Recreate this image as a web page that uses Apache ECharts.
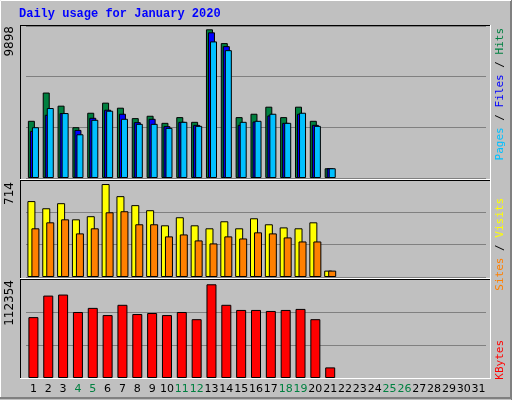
<!DOCTYPE html>
<html><head><meta charset="utf-8">
<script src="https://cdn.jsdelivr.net/npm/echarts@6/dist/echarts.min.js"></script>
<style>html,body{margin:0;padding:0;background:#c0c0c0}#c{width:512px;height:400px}</style>
</head><body><div id="c"></div>
<script>
const days = Array.from({length:31},(_,i)=>String(i+1));
const weekend = ['4','5','11','12','18','19','25','26'];
const hits  = [3807,5688,4815,3381,4344,5016,4680,3986,4143,3672,4053,3740,9898,8980,4053,4277,4747,4053,4747,3807,649];
const files = [3135,4210,4322,3202,4008,4546,4277,3717,3941,3449,3740,3538,9696,8778,3538,3762,4165,3672,4277,3538,649];
const pages = [3381,4658,4322,2911,3874,4479,3941,3605,3605,3337,3740,3471,9092,8510,3740,3807,4277,3672,4344,3471,649];
const visits= [583,528,567,443,467,714,621,552,513,397,459,397,374,428,374,451,405,381,374,420,49];
const sites = [374,420,443,335,374,497,505,405,405,312,327,281,258,312,296,343,335,304,273,273,49];
const kbytes= [72990,98823,100055,79142,84063,75450,87753,76682,77911,75450,79142,70530,112354,87753,81603,81603,80371,81603,82833,70530,12712];
const yMaxLabels = ['9898','714','112354'];

const grids=[{top:26,height:152},{top:180,height:97},{top:279,height:99}];
const maxes=[10118,745,118700];
const grid=grids.map(g=>({left:26,right:26,top:g.top,height:g.height}));
const xAxis=grids.map((g,i)=>({type:'category',gridIndex:i,data:days,boundaryGap:true,
  axisLine:{show:false},axisTick:{show:false},
  axisLabel:{show:i===2,margin:6,fontFamily:'DejaVu Sans',fontSize:11,
    color:(v)=>weekend.includes(v)?'#008040':'#000',interval:0}}));
const yAxis=grids.map((g,i)=>({type:'value',gridIndex:i,min:0,max:maxes[i],interval:maxes[i]/3,
  axisLabel:{show:false},axisLine:{show:false},axisTick:{show:false},
  splitLine:{show:true,lineStyle:{color:'#808080',width:1}}}));
const bs={borderColor:'#000',borderWidth:1};
const series=[
 {type:'bar',xAxisIndex:0,yAxisIndex:0,data:hits,barWidth:7,barGap:'-71%',itemStyle:{color:'#008040',...bs}},
 {type:'bar',xAxisIndex:0,yAxisIndex:0,data:files,barWidth:7,barGap:'-71%',itemStyle:{color:'#0000ff',...bs}},
 {type:'bar',xAxisIndex:0,yAxisIndex:0,data:pages,barWidth:7,barGap:'-71%',itemStyle:{color:'#00c0ff',...bs}},
 {type:'bar',xAxisIndex:1,yAxisIndex:1,data:visits,barWidth:8,barGap:'-50%',itemStyle:{color:'#ffff00',...bs}},
 {type:'bar',xAxisIndex:1,yAxisIndex:1,data:sites,barWidth:8,barGap:'-50%',itemStyle:{color:'#ff8000',...bs}},
 {type:'bar',xAxisIndex:2,yAxisIndex:2,data:kbytes,barWidth:10,itemStyle:{color:'#ff0000',...bs}}
];
const line=(x1,y1,x2,y2,c)=>({type:'line',shape:{x1,y1,x2,y2},style:{stroke:c,lineWidth:1},z:10,silent:true});
const panels=[[25,180],[180,279],[279,379]];
const g=[
 line(0.5,0.5,511,0.5,'#ffffff'),line(0.5,0.5,0.5,399,'#ffffff'),
 line(0,398.5,512,398.5,'#808080'),line(511.5,0,511.5,400,'#808080'),
 line(0,397.5,511,397.5,'#808080'),line(510.5,1,510.5,399,'#808080'),
 {type:'text',x:19,y:8,style:{text:'Daily usage for January 2020',fill:'#0000ff',font:'bold 12px "Liberation Mono"'}}
];
panels.forEach(p=>{
 g.push(line(20,p[0]+0.5,491,p[0]+0.5,'#000'),line(20.5,p[0],20.5,p[1],'#000'),
        line(20,p[1]-0.5,491,p[1]-0.5,'#fff'),line(490.5,p[0],490.5,p[1],'#fff'));
});
[[26,0],[182,1],[280,2]].forEach(([y,i])=>g.push({type:'text',x:10,y:y,rotation:Math.PI/2,
  style:{text:yMaxLabels[i],textAlign:'right',textVerticalAlign:'middle',fill:'#000',font:'12px "DejaVu Sans"'}}));
const legFont='11px "DejaVu Sans Mono"';
const leg=(y,parts)=>({type:'text',x:500,y:y,rotation:Math.PI/2,style:{text:parts.map((p,k)=>'{s'+k+'|'+p[0]+'}').join(''),
  textAlign:'right',textVerticalAlign:'middle',font:legFont,
  rich:Object.fromEntries(parts.map((p,k)=>['s'+k,{fill:p[1],font:legFont}]))}});
g.push(leg(28,[['Pages','#00c0ff'],[' / ','#000'],['Files','#0000ff'],[' / ','#000'],['Hits','#008040']]));
g.push(leg(198,[['Sites','#ff8000'],[' / ','#000'],['Visits','#ffff00']]));
g.push(leg(340,[['KBytes','#ff0000']]));
const chart=echarts.init(document.getElementById('c'));
chart.setOption({backgroundColor:'#c0c0c0',animation:false,grid,xAxis,yAxis,series,graphic:g});
</script></body></html>
